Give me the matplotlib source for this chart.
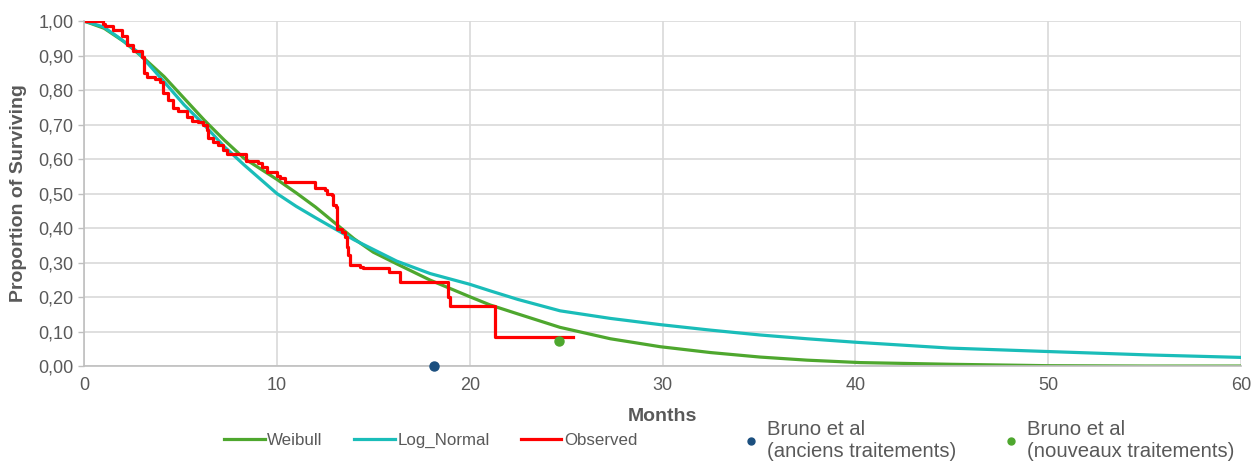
import matplotlib
matplotlib.use("Agg")
import matplotlib.pyplot as plt
from matplotlib.lines import Line2D
from matplotlib.ticker import FuncFormatter

plt.rcParams['font.family'] = ['Liberation Sans', 'DejaVu Sans']

# fitted curves
weibull_t = [0, 1.04, 2.08, 3.11, 4.15, 5.19, 6.23, 7.27, 8.3, 10, 11, 12, 13,
             14, 15, 16.22, 17.95, 20, 21.06, 22.5, 24.69, 27.3, 29.88, 32.5, 35.06,
             37.5, 40.25, 45, 50, 55, 60]
weibull_s = [1.0, 0.979, 0.94, 0.892, 0.839, 0.776, 0.713, 0.655, 0.602, 0.541, 0.502, 0.461, 0.415,
             0.369, 0.330, 0.296, 0.249, 0.201, 0.177, 0.151, 0.112, 0.079, 0.056, 0.039, 0.026,
             0.017, 0.010, 0.005, 0.001, 0.0, 0.0]

lognorm_t = [0, 1.0, 1.73, 2.77, 4.15, 5.19, 6.23, 7.27, 8.3, 10, 11, 12, 13,
             14, 15, 16.22, 17.95, 20, 21.06, 22.5, 24.69, 27.3, 29.88, 32.5, 35.06,
             37.5, 40, 44.9, 50, 55.3, 60]
lognorm_s = [1.0, 0.983, 0.955, 0.911, 0.824, 0.757, 0.699, 0.636, 0.583, 0.50, 0.463, 0.430, 0.398,
             0.366, 0.338, 0.304, 0.268, 0.237, 0.218, 0.193, 0.160, 0.138, 0.120, 0.104, 0.090,
             0.079, 0.069, 0.052, 0.042, 0.032, 0.025]

# Kaplan-Meier observed (step after each time)
obs_t = [0, 0.97, 1.09, 1.5, 1.95, 2.21, 2.56, 2.99, 3.11, 3.25, 3.68, 3.94, 4.12, 4.37,
         4.63, 4.89, 5.32, 5.58, 5.93, 6.19, 6.36, 6.45, 6.71, 6.97, 7.22, 7.4, 8.4,
         9.04, 9.21, 9.48, 9.99, 10.17, 10.43, 12.0, 12.5, 12.58, 12.85, 12.93, 13.05,
         13.1, 13.36, 13.54, 13.62, 13.71, 13.8, 14.3, 14.49, 15.79, 16.39, 18.9, 18.98,
         21.32, 25.38]
obs_s = [1.0, 0.99, 0.985, 0.974, 0.957, 0.93, 0.914, 0.897, 0.848, 0.839, 0.831, 0.824, 0.79, 0.771,
         0.747, 0.74, 0.723, 0.711, 0.708, 0.699, 0.684, 0.66, 0.65, 0.641, 0.626, 0.614, 0.593,
         0.588, 0.577, 0.562, 0.552, 0.545, 0.532, 0.516, 0.511, 0.50, 0.496, 0.467, 0.462,
         0.397, 0.388, 0.375, 0.346, 0.322, 0.293, 0.288, 0.283, 0.273, 0.245, 0.201, 0.173,
         0.084, 0.084]

bruno_old = (18.17, 0.0)
bruno_new = (24.64, 0.072)

c_weib = '#4EA72E'
c_logn = '#1ABDB9'
c_obs = '#FF0000'
c_blue = '#1B4F7F'
c_text = '#595959'

fig = plt.figure(figsize=(12.58, 4.61), dpi=100)
ax = fig.add_axes([0.0668, 0.206, 0.9197, 0.7484])

ax.plot(weibull_t, weibull_s, color=c_weib, lw=2.3, label='Weibull')
ax.plot(lognorm_t, lognorm_s, color=c_logn, lw=2.3, label='Log_Normal')
ax.plot(obs_t, obs_s, color=c_obs, lw=2.3, drawstyle='steps-post', label='Observed')
ax.plot(*bruno_old, 'o', color=c_blue, ms=6.5, clip_on=False, zorder=5)
ax.plot(*bruno_new, 'o', color=c_weib, ms=6.5, clip_on=False, zorder=5)

ax.set_xlim(0, 60)
ax.set_ylim(0, 1)
ax.set_xticks(range(0, 61, 10))
ax.set_yticks([i / 10 for i in range(11)])
ax.yaxis.set_major_formatter(FuncFormatter(lambda v, p: f"{v:.2f}".replace('.', ',')))
ax.grid(True, color='#D9D9D9', lw=1.2)
ax.set_axisbelow(True)
for s in ['top', 'right']:
    ax.spines[s].set_visible(False)
for s in ['left', 'bottom']:
    ax.spines[s].set_color('#BFBFBF')
    ax.spines[s].set_linewidth(1.2)
ax.tick_params(colors='#BFBFBF', labelcolor=c_text, labelsize=13, length=4, width=1)
ax.tick_params(axis='x', length=0, pad=8)

ax.set_xlabel('Months', fontsize=14, fontweight='bold', color=c_text, labelpad=10)
ax.set_ylabel('Proportion of Surviving', fontsize=14, fontweight='bold', color=c_text, labelpad=8)

# legends
leg1 = fig.legend(loc='center left', bbox_to_anchor=(0.166, 0.045), ncol=3, frameon=False,
                  fontsize=12.2, handlelength=2.4, handletextpad=0.15, columnspacing=1.85,
                  labelcolor=c_text)
dot_h = [Line2D([], [], ls='none', marker='o', color=c_blue, ms=5),
         Line2D([], [], ls='none', marker='o', color=c_weib, ms=5)]
leg2 = fig.legend(dot_h, ['Bruno et al\n(anciens traitements)', 'Bruno et al\n(nouveaux traitements)'],
                  loc='center left', bbox_to_anchor=(0.576, 0.045), ncol=2, frameon=False,
                  fontsize=14.6, handlelength=0.8, handletextpad=0.4, columnspacing=2.3,
                  labelcolor=c_text)

fig.savefig('out.png', dpi=100)
